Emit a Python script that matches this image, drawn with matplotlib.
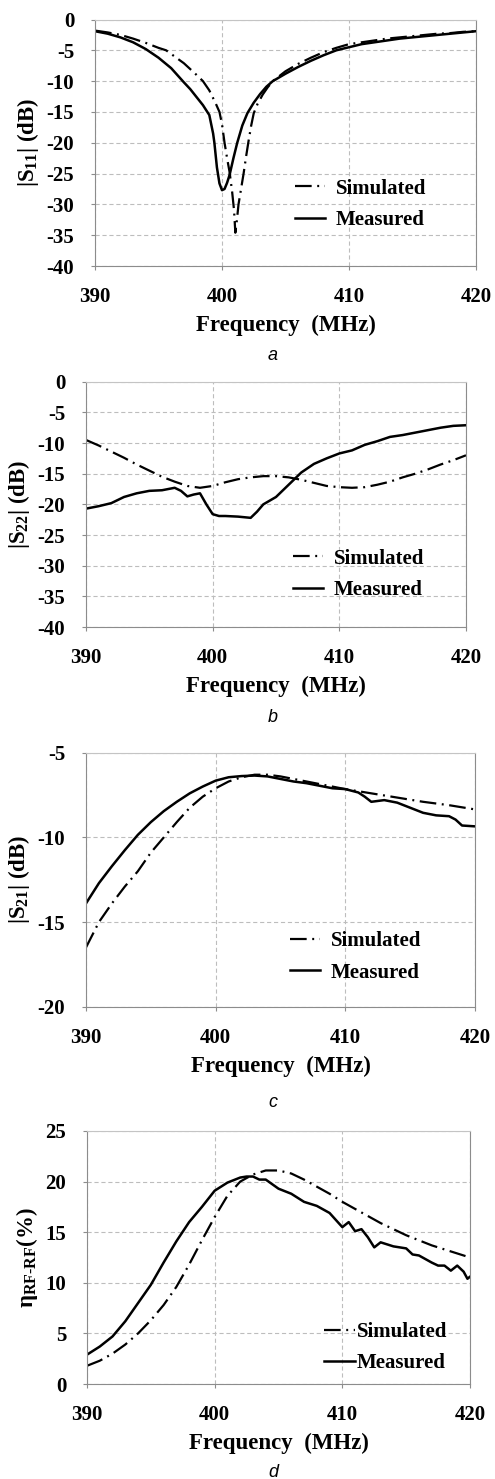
import matplotlib
matplotlib.use('Agg')
import matplotlib.pyplot as plt
import numpy as np

plt.rcParams['font.family'] = ['Liberation Serif', 'DejaVu Serif']
plt.rcParams['font.weight'] = 'bold'
plt.rcParams['axes.labelweight'] = 'bold'
plt.rcParams['axes.unicode_minus'] = False
plt.rcParams['mathtext.fontset'] = 'custom'
plt.rcParams['mathtext.rm'] = 'Liberation Serif'
plt.rcParams['mathtext.bf'] = 'Liberation Serif:bold'
plt.rcParams['mathtext.default'] = 'regular'
plt.rcParams['lines.scale_dashes'] = False

# (a) |S11|
s11_sim_f = [390, 391, 392, 393, 394, 395, 395.6, 396, 397, 398, 398.5, 399, 399.5, 399.8, 400,
             400.2, 400.4, 400.6, 400.8, 400.95, 401.05, 401.15, 401.3, 401.5, 401.7, 401.9,
             402.1, 402.3, 402.5, 402.8, 403.2, 403.6, 404, 405, 406, 407, 408, 409, 410,
             411, 412, 413, 414, 415, 416, 417, 418, 419, 420]
s11_sim = [-1.8, -2.1, -2.5, -3.1, -3.8, -4.6, -5.0, -5.6, -7.1, -9.0, -10.0, -11.5, -13.6, -15.0, -17.0,
           -20.0, -22.5, -24.8, -28.0, -31.0, -34.6, -33.0, -30.0, -27.5, -25.0, -22.2,
           -19.6, -17.2, -15.2, -13.7, -12.2, -11.0, -10.0, -8.4, -7.2, -6.2, -5.3, -4.6, -4.0,
           -3.7, -3.4, -3.1, -2.9, -2.7, -2.5, -2.3, -2.2, -2.0, -1.9]
s11_meas_f = [390, 391, 392, 393, 394, 395, 396, 397, 397.5, 398, 398.5, 399, 399.3, 399.4, 399.6,
              399.8, 400, 400.2, 400.4, 400.6, 400.9, 401.2, 401.6, 402, 402.5, 403, 403.5, 404,
              405, 406, 407, 408, 409, 410, 411, 412, 413, 414, 415, 416, 417, 418, 419, 420]
s11_meas = [-1.9, -2.3, -2.9, -3.7, -4.8, -6.2, -7.9, -10.2, -11.3, -12.6, -13.9, -15.5, -18.5, -20.0, -24.0,
            -26.6, -27.7, -27.5, -26.5, -25.2, -22.5, -20.0, -17.2, -15.2, -13.5, -12.1, -10.9, -10.0,
            -8.8, -7.7, -6.7, -5.8, -5.0, -4.5, -4.0, -3.7, -3.4, -3.1, -2.9, -2.7, -2.5, -2.3, -2.1, -1.9]

# (b) |S22|
s22_sim_f = [390, 391, 392, 393, 394, 395, 396, 397, 398, 399, 400, 401, 402, 403, 404, 405,
             406, 407, 408, 409, 410, 411, 412, 413, 414, 415, 416, 417, 418, 419, 420]
s22_sim = [-9.5, -10.4, -11.4, -12.4, -13.5, -14.5, -15.5, -16.3, -17.0, -17.3, -17.0, -16.4, -15.9, -15.6, -15.4, -15.4,
           -15.6, -16.0, -16.5, -17.0, -17.2, -17.3, -17.2, -16.8, -16.3, -15.6, -15.0, -14.3, -13.5, -12.8, -12.0]
s22_meas_f = [390, 391, 392, 393, 394, 395, 396, 397, 397.5, 398, 398.5, 399, 399.5, 400, 400.5,
              401, 402, 402.5, 403, 403.5, 404, 405, 406, 407, 408, 409, 410, 411, 412, 413,
              414, 415, 416, 417, 418, 419, 420]
s22_meas = [-20.7, -20.3, -19.8, -18.8, -18.2, -17.8, -17.7, -17.3, -17.8, -18.7, -18.4, -18.2, -20.0, -21.6, -21.9,
            -21.9, -22.0, -22.1, -22.2, -21.2, -20.0, -18.8, -16.8, -14.8, -13.4, -12.5, -11.7, -11.2, -10.3, -9.7,
            -9.0, -8.7, -8.3, -7.9, -7.5, -7.2, -7.1]

# (c) |S21|
s21_sim_f = [390, 391, 392, 393, 394, 395, 396, 397, 398, 399, 400, 401, 402, 403, 404, 405,
             406, 407, 408, 409, 410, 412, 414, 416, 418, 420]
s21_sim = [-16.5, -15.0, -13.9, -12.9, -12.0, -10.9, -10.0, -9.1, -8.25, -7.6, -7.1, -6.7, -6.45, -6.3, -6.3, -6.4,
           -6.55, -6.7, -6.85, -7.0, -7.15, -7.4, -7.65, -7.9, -8.1, -8.35]
s21_meas_f = [390, 391, 392, 393, 394, 395, 396, 397, 398, 399, 400, 401, 402, 403, 404, 405,
              406, 407, 408, 409, 410, 411, 411.5, 412, 413, 414, 415, 416, 417, 418, 418.5, 419, 420]
s21_meas = [-13.9, -12.7, -11.7, -10.75, -9.85, -9.1, -8.45, -7.9, -7.4, -7.0, -6.65, -6.45, -6.38, -6.35, -6.4, -6.55,
            -6.7, -6.8, -6.95, -7.1, -7.15, -7.35, -7.6, -7.9, -7.8, -7.95, -8.25, -8.55, -8.7, -8.75, -8.95, -9.3, -9.35]

# (d) RF-RF efficiency
eta_sim_f = [390, 391, 392, 393, 394, 395, 396, 397, 398, 399, 400, 401, 402, 403, 404, 405,
             406, 407, 408, 409, 410, 411, 412, 413, 414, 415, 416, 417, 418, 419, 420]
eta_sim = [1.8, 2.3, 3.0, 3.9, 5.0, 6.3, 7.8, 9.6, 11.8, 14.2, 16.5, 18.6, 20.0, 20.7, 21.1, 21.1,
           20.8, 20.2, 19.5, 18.8, 18.0, 17.3, 16.6, 15.9, 15.3, 14.7, 14.2, 13.7, 13.3, 12.9, 12.5]
eta_meas_f = [390, 391, 392, 393, 394, 395, 396, 397, 398, 399, 400, 401, 402, 402.5, 403, 403.5,
              404, 405, 406, 407, 408, 409, 410, 410.5, 411, 411.5, 412, 412.5, 413, 414, 415,
              415.5, 416, 417, 417.5, 418, 418.5, 419, 419.5, 419.8, 420]
eta_meas = [2.9, 3.7, 4.7, 6.2, 8.0, 9.8, 12.0, 14.1, 16.0, 17.5, 19.1, 19.9, 20.4, 20.5, 20.5, 20.2,
            20.2, 19.3, 18.8, 18.0, 17.6, 16.9, 15.5, 16.0, 15.1, 15.3, 14.5, 13.5, 14.0, 13.6, 13.4,
            12.8, 12.7, 12.0, 11.7, 11.7, 11.2, 11.7, 11.1, 10.4, 10.6]

x_ticks = [390, 400, 410, 420]
dashdot = (0, (12, 4, 1.4, 4))

W, H = 495, 1479
fig = plt.figure(figsize=(W / 100, H / 100), dpi=100)


def px_axes(left, right, top, bottom):
    return fig.add_axes([left / W, 1 - bottom / H, (right - left) / W, (bottom - top) / H])


def setup(ax, sim_f, sim, meas_f, meas, ylim, ylabel, leg_x, leg_y, textpad=0.5):
    ax.plot(sim_f, sim, color='black', lw=1.6, linestyle=dashdot, label='Simulated')
    ax.plot(meas_f, meas, color='black', lw=1.8, label='Measured')
    ax.set_xlim(390, 420)
    ax.set_ylim(*ylim)
    ax.set_xticks(x_ticks)
    ax.set_yticks(np.arange(ylim[0], ylim[1] + 0.1, 5))
    ax.grid(True, color='#bdbdbd', linestyle=(0, (3, 2)), lw=0.8)
    ax.set_axisbelow(True)
    for side in ['left', 'bottom', 'right']:
        ax.spines[side].set_color('#8c8c8c')
    ax.spines['top'].set_color('#c4c4c4')
    ax.tick_params(direction='out', length=3, color='#8c8c8c', labelsize=15, pad=12)
    ax.set_xlabel('Frequency  (MHz)', fontsize=16.5, labelpad=6)
    ax.set_ylabel(ylabel, fontsize=16.5, labelpad=4)
    ax.legend(loc='center left', bbox_to_anchor=(leg_x, leg_y), frameon=False,
              fontsize=15, handlelength=1.45, handletextpad=textpad, labelspacing=0.55,
              borderpad=0, borderaxespad=0)


ax_a = px_axes(95, 476, 19.5, 266)
setup(ax_a, s11_sim_f, s11_sim, s11_meas_f, s11_meas, (-40, 0),
      r'|S$_{\mathbf{11}}$| (dB)', 0.525, 0.25)

ax_b = px_axes(86, 466, 381.7, 627)
setup(ax_b, s22_sim_f, s22_sim, s22_meas_f, s22_meas, (-40, 0),
      r'|S$_{\mathbf{22}}$| (dB)', 0.545, 0.214)

ax_c = px_axes(86, 475, 752.7, 1006.7)
setup(ax_c, s21_sim_f, s21_sim, s21_meas_f, s21_meas, (-20, -5),
      r'|S$_{\mathbf{21}}$| (dB)', 0.524, 0.196)

ax_d = px_axes(87, 470, 1131, 1384)
setup(ax_d, eta_sim_f, eta_sim, eta_meas_f, eta_meas, (0, 25),
      r'η$_{\mathrm{RF\text{-}RF}}$(%)', 0.62, 0.144, textpad=0.1)

# panel captions
for letter, base in [('a', 360), ('b', 722), ('c', 1107), ('d', 1477)]:
    fig.text(273 / W, 1 - base / H, letter, family='Liberation Sans', style='italic',
             weight='normal', fontsize=13, ha='center', va='baseline')

fig.savefig('out.png', dpi=100)
